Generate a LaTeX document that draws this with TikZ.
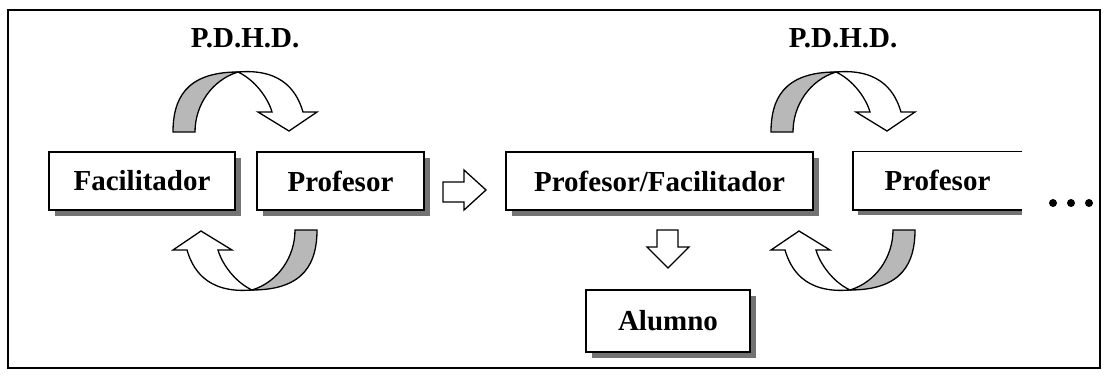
\documentclass[tikz,border=0pt]{standalone}
\usepackage{fontspec}
\setmainfont{Liberation Serif}
\usetikzlibrary{shadows}

\begin{document}
\begin{tikzpicture}[
    x=1pt, y=-1pt,
    every node/.style={font=\fontsize{29}{32}\selectfont\bfseries},
    box/.style={draw, line width=1.6pt, fill=white, minimum height=58pt,
        drop shadow={shadow xshift=6pt, shadow yshift=-6pt, fill=black!55, opacity=1}},
    flat arrow/.style={draw, line width=1.3pt, fill=white, line join=miter},
    shade part/.style={draw, line width=1.3pt, fill=black!28},
    half loop/.pic={
        \path[shade part] (173,132) .. controls (173,100) and (185,72) .. (238,72)
            .. controls (212,80) and (195,105) .. (195,132) -- cycle;
        \path[flat arrow] (238,72) .. controls (285,68) and (298,95) .. (303,112)
            -- (317,112) -- (289,131) -- (258,112) -- (272,112)
            .. controls (268,98) and (255,80) .. (238,72) -- cycle;
    }
  ]
  \useasboundingbox (0,0) rectangle (1106,375);
  \draw[line width=1.5pt] (8,10) rectangle (1100,368);

  % first cycle
  \node (pdhd1) at (245,38) {P.D.H.D.};
  \pic at (0,0) {half loop};
  \pic[rotate=180] at (490,362) {half loop};
  \node[box, minimum width=186pt] (facil) at (142,181) {Facilitador};
  \node[box, minimum width=167pt] (prof1) at (340.5,181) {Profesor};

  \path[flat arrow] (443,182) -- (464,182) -- (464,170) -- (486,190)
      -- (464,210) -- (464,202) -- (443,202) -- cycle;

  % second cycle
  \node (pdhd2) at (843,38) {P.D.H.D.};
  \pic at (598,0) {half loop};
  \pic[rotate=180] at (1088,362) {half loop};
  \node[box, minimum width=307pt] (proffac) at (659.5,181) {Profesor/Facilitador};
  \node[minimum width=169pt, minimum height=58pt] (prof2) at (937.5,180.5) {Profesor};
  \fill[black!55] (858,209) rectangle (1022,215);
  \draw[line width=1.6pt] (prof2.north east) -- (prof2.north west)
      -- (prof2.south west) -- (prof2.south east);

  \path[flat arrow] (657,230) -- (678,230) -- (678,247) -- (689,247)
      -- (668,268) -- (647,247) -- (657,247) -- cycle;
  \node[box, minimum width=164pt, minimum height=62pt] (alumno) at (668,321) {Alumno};

  \foreach \x in {1053,1071,1089}
    \fill (\x,203) circle (4);
\end{tikzpicture}
\end{document}
